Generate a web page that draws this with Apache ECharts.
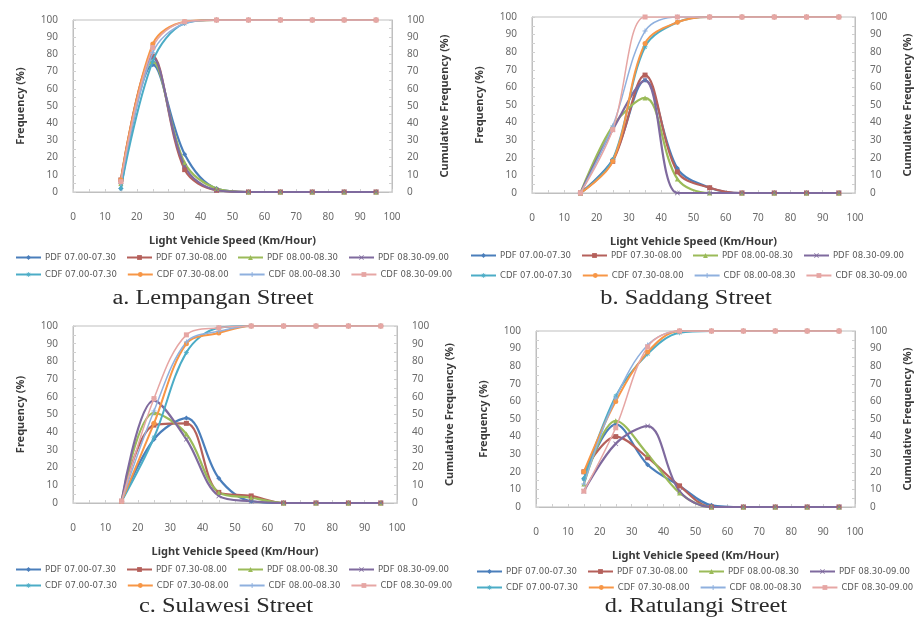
<!DOCTYPE html>
<html>
<head>
<meta charset="utf-8">
<script src="https://cdn.jsdelivr.net/npm/echarts@6/dist/echarts.min.js"></script>
<style>
  html, body { margin: 0; padding: 0; background: #ffffff; }
  #chart { width: 914px; height: 620px; }
</style>
</head>
<body>
<div id="chart"></div>
<script>
// Speed class midpoints (Km/Hour)
const speeds = [15, 25, 35, 45, 55, 65, 75, 85, 95];

const pdfNames = ['PDF 07.00-07.30', 'PDF 07.30-08.00', 'PDF 08.00-08.30', 'PDF 08.30-09.00'];
const cdfNames = ['CDF 07.00-07.30', 'CDF 07.30-08.00', 'CDF 08.00-08.30', 'CDF 08.30-09.00'];
const captions = ['a. Lempangan Street', 'b. Saddang Street', 'c. Sulawesi Street', 'd. Ratulangi Street'];

// Frequency (%) per period, one row per half-hour period
const lempanganPDF = [
  [2, 74, 22, 2, 0, 0, 0, 0, 0],
  [7, 79, 13, 1, 0, 0, 0, 0, 0],
  [5, 76, 17, 2, 0, 0, 0, 0, 0],
  [6, 78, 15, 1, 0, 0, 0, 0, 0]
];
const lempanganCDF = [
  [2, 76, 98, 100, 100, 100, 100, 100, 100],
  [7, 86, 99, 100, 100, 100, 100, 100, 100],
  [5, 81, 98, 100, 100, 100, 100, 100, 100],
  [6, 84, 99, 100, 100, 100, 100, 100, 100]
];
const saddangPDF = [
  [0, 19, 64, 14, 3, 0, 0, 0, 0],
  [0, 18, 67, 12, 3, 0, 0, 0, 0],
  [0, 38, 54, 8, 0, 0, 0, 0, 0],
  [0, 36, 64, 0, 0, 0, 0, 0, 0]
];
const saddangCDF = [
  [0, 19, 83, 97, 100, 100, 100, 100, 100],
  [0, 18, 85, 97, 100, 100, 100, 100, 100],
  [0, 38, 92, 100, 100, 100, 100, 100, 100],
  [0, 36, 100, 100, 100, 100, 100, 100, 100]
];
const sulawesiPDF = [
  [1, 36, 48, 14, 1, 0, 0, 0, 0],
  [1, 44, 45, 6, 4, 0, 0, 0, 0],
  [1, 51, 39, 6, 3, 0, 0, 0, 0],
  [1, 58, 36, 4, 1, 0, 0, 0, 0]
];
const sulawesiCDF = [
  [1, 37, 85, 99, 100, 100, 100, 100, 100],
  [1, 45, 90, 96, 100, 100, 100, 100, 100],
  [1, 52, 91, 97, 100, 100, 100, 100, 100],
  [1, 59, 95, 99, 100, 100, 100, 100, 100]
];
const ratulangiPDF = [
  [16, 47, 24, 12, 1, 0, 0, 0, 0],
  [20, 40, 28, 12, 0, 0, 0, 0, 0],
  [13, 49, 30, 8, 0, 0, 0, 0, 0],
  [9, 36, 46, 9, 0, 0, 0, 0, 0]
];
const ratulangiCDF = [
  [16, 63, 87, 99, 100, 100, 100, 100, 100],
  [20, 60, 88, 100, 100, 100, 100, 100, 100],
  [13, 62, 92, 100, 100, 100, 100, 100, 100],
  [9, 45, 91, 100, 100, 100, 100, 100, 100]
];

// Line colours: PDF series first, then CDF series
const pdfColors = ['#4a7ebb', '#b5605b', '#9bbb59', '#7f6a9e'];
const cdfColors = ['#4bacc6', '#f79646', '#8fb0de', '#e6a6a4'];

// Marker shapes in the order of a spreadsheet's default series markers
const symX = 'path://M0,1L1,0L5,4L9,0L10,1L6,5L10,9L9,10L5,6L1,10L0,9L4,5Z';
const symStar = 'path://M4.3,0H5.7V3.3L8.1,0.9L9.1,1.9L6.7,4.3H10V5.7H6.7L9.1,8.1L8.1,9.1L5.7,6.7V10H4.3V6.7L1.9,9.1L0.9,8.1L3.3,5.7H0V4.3H3.3L0.9,1.9L1.9,0.9L4.3,3.3Z';
const symPlus = 'path://M4,0H6V4H10V6H6V10H4V6H0V4H4Z';
const symDash = 'path://M0,4H10V6H0Z';
const pdfSymbols = ['diamond', 'rect', 'triangle', symX];
const cdfSymbols = [symStar, 'circle', symPlus, symDash];

const panels = [
  { grid: { left: 73, top: 20, width: 319, height: 172 }, pdf: lempanganPDF, cdf: lempanganCDF,
    legend: { left: 15, tops: [253, 270] }, caption: { x: 213, y: 299 } },
  { grid: { left: 532, top: 17, width: 325, height: 176 }, pdf: saddangPDF, cdf: saddangCDF,
    legend: { left: 470, tops: [251, 271] }, caption: { x: 686, y: 299 } },
  { grid: { left: 73, top: 326, width: 324, height: 177 }, pdf: sulawesiPDF, cdf: sulawesiCDF,
    legend: { left: 15, tops: [565, 581] }, caption: { x: 226, y: 607 } },
  { grid: { left: 536, top: 331, width: 322, height: 176 }, pdf: ratulangiPDF, cdf: ratulangiCDF,
    legend: { left: 476, tops: [567, 583] }, caption: { x: 696, y: 607 } }
];

const tickFont = { fontFamily: 'Noto Sans', fontSize: 10, color: '#6a6a6a' };
const titleFont = { fontFamily: 'Noto Sans', fontSize: 11, fontWeight: 'bold', color: '#3a3a3a' };
const axisGrey = '#bfbfbf';

const grids = [], xAxes = [], yAxes = [], series = [], legends = [], graphics = [];

panels.forEach((p, i) => {
  grids.push(Object.assign({ show: true, borderColor: axisGrey, borderWidth: 1, backgroundColor: '#fff' }, p.grid));

  xAxes.push({
    type: 'value', gridIndex: i, min: 0, max: 100, interval: 10,
    name: 'Light Vehicle Speed (Km/Hour)', nameLocation: 'middle', nameGap: 43,
    nameTextStyle: titleFont,
    axisLine: { show: true, onZero: false, lineStyle: { color: axisGrey } },
    axisTick: { show: true, inside: true, length: 3, lineStyle: { color: '#d0d0d0' } },
    minorTick: { show: true, splitNumber: 2, length: 3, lineStyle: { color: '#d0d0d0' } },
    axisLabel: Object.assign({ margin: 20 }, tickFont),
    splitLine: { show: false }
  });

  const yCommon = {
    type: 'value', gridIndex: i, min: 0, max: 100, interval: 10,
    nameLocation: 'middle', nameRotate: 90,
    nameTextStyle: titleFont,
    axisLine: { show: true, lineStyle: { color: axisGrey } },
    axisTick: { show: true, inside: true, length: 3, lineStyle: { color: '#d0d0d0' } },
    minorTick: { show: true, splitNumber: 2, length: 3, lineStyle: { color: '#d0d0d0' } },
    splitLine: { show: false }
  };
  yAxes.push(Object.assign({}, yCommon, {
    position: 'left', name: 'Frequency (%)', nameGap: 47,
    axisLabel: Object.assign({ margin: 15 }, tickFont)
  }));
  yAxes.push(Object.assign({}, yCommon, {
    position: 'right', name: 'Cumulative Frequency (%)', nameGap: 47,
    axisLabel: Object.assign({ margin: 15 }, tickFont)
  }));

  p.pdf.forEach((vals, j) => {
    series.push({
      type: 'line', name: pdfNames[j], xAxisIndex: i, yAxisIndex: 2 * i,
      data: speeds.map((s, k) => [s, vals[k]]),
      smooth: 0.35, symbol: pdfSymbols[j], symbolSize: 5, showSymbol: true,
      lineStyle: { width: 2.2, color: pdfColors[j] }, itemStyle: { color: pdfColors[j] },
      emphasis: { disabled: true }, z: 2
    });
  });
  p.cdf.forEach((vals, j) => {
    series.push({
      type: 'line', name: cdfNames[j], xAxisIndex: i, yAxisIndex: 2 * i + 1,
      data: speeds.map((s, k) => [s, vals[k]]),
      smooth: 0.35, symbol: cdfSymbols[j], symbolSize: 5, showSymbol: true,
      lineStyle: { width: j < 2 ? 2 : 1.5, color: cdfColors[j] }, itemStyle: { color: cdfColors[j] },
      emphasis: { disabled: true }, z: 3
    });
  });

  [pdfNames, cdfNames].forEach((names, r) => {
    legends.push({
      left: p.legend.left, top: p.legend.tops[r], orient: 'horizontal',
      data: names, itemWidth: 25, itemHeight: 6, itemGap: 10, padding: 0,
      selectedMode: false,
      textStyle: { fontFamily: 'DejaVu Sans', fontSize: 8.5, color: '#5a5a5a', padding: [0, 0, 0, -1] }
    });
  });

  graphics.push({
    type: 'text', x: p.caption.x, y: p.caption.y, scaleX: 1.22,
    style: {
      text: captions[i], fill: '#2a2a2a', font: '20px "Liberation Serif"',
      textAlign: 'center', textVerticalAlign: 'middle', align: 'center', verticalAlign: 'middle'
    }
  });
});

const chart = echarts.init(document.getElementById('chart'), null, { renderer: 'canvas' });
chart.setOption({
  backgroundColor: '#ffffff',
  animation: false,
  grid: grids,
  xAxis: xAxes,
  yAxis: yAxes,
  series: series,
  legend: legends,
  graphic: graphics
});
</script>
</body>
</html>
